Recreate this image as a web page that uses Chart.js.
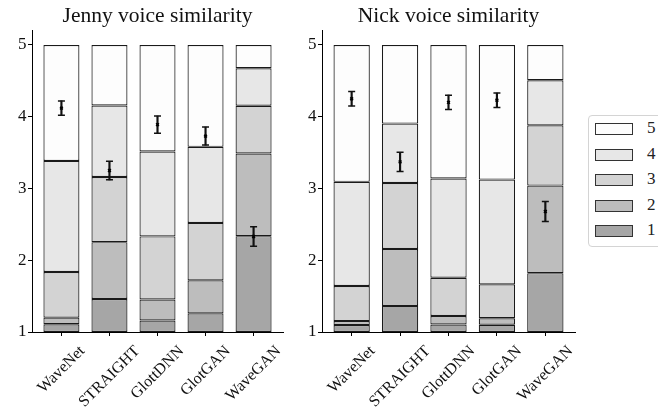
<!DOCTYPE html>
<html lang="en">
<head>
  <meta charset="UTF-8">
  <title>Voice similarity</title>
  <script src="https://cdn.jsdelivr.net/npm/chart.js"></script>
  <style>
    body {
      margin: 0;
      background: #fff;
      font-family: "Liberation Serif", "DejaVu Serif", serif;
      overflow: hidden;
    }
    .panel {
      position: absolute;
      top: 0;
    }
    #legend {
      position: absolute;
      left: 588px;
      top: 115px;
      width: 90px;
      height: 132px;
      border: 1px solid #d4d4d4;
      border-radius: 4px;
      box-sizing: border-box;
    }
    .row {
      position: absolute;
      left: 6px;
      height: 12px;
    }
    .swatch {
      position: absolute;
      left: 0;
      top: 0;
      width: 36px;
      height: 10px;
      border: 1px solid #333;
    }
    .lbl {
      position: absolute;
      left: 52px;
      top: -5px;
      font-size: 17px;
      color: #222;
    }
  </style>
</head>
<body>

  <div class="panel" style="left:0px"><canvas id="jenny" width="290" height="415"></canvas></div>
  <div class="panel" style="left:290px"><canvas id="nick" width="292" height="415"></canvas></div>
  <div id="legend"></div>

  <script>
    const systems = ['WaveNet', 'STRAIGHT', 'GlottDNN', 'GlotGAN', 'WaveGAN'];
    const scores = ['1', '2', '3', '4', '5'];
    const scoreColors = ['#a6a6a6', '#bdbdbd', '#d3d3d3', '#e7e7e7', '#fdfdfd'];
    const yTicks = [1, 2, 3, 4, 5];

    // share of ratings (%) per score, one array per score, ordered like systems
    const jenny1 = [2.7, 11.5, 4.0, 6.5, 33.4];
    const jenny2 = [2.3, 19.8, 7.3, 11.5, 28.8];
    const jenny3 = [15.9, 22.7, 22.0, 20.0, 16.6];
    const jenny4 = [38.7, 24.9, 29.6, 26.5, 13.1];
    const jenny5 = [40.4, 21.1, 37.1, 35.5, 8.1];
    const jennyMean = [4.12, 3.25, 3.89, 3.73, 2.33];
    const jennyErr = [0.10, 0.13, 0.12, 0.125, 0.135];

    const nick1 = [2.4, 9.1, 2.6, 2.5, 20.5];
    const nick2 = [1.4, 19.8, 3.0, 2.3, 30.5];
    const nick3 = [12.2, 23.0, 13.3, 11.8, 21.0];
    const nick4 = [36.3, 20.7, 34.6, 36.5, 15.7];
    const nick5 = [47.7, 27.4, 46.5, 46.9, 12.3];
    const nickMean = [4.25, 3.37, 4.20, 4.23, 2.68];
    const nickErr = [0.10, 0.135, 0.10, 0.10, 0.14];

    const serif = '"Liberation Serif", "DejaVu Serif", serif';
    Chart.defaults.font.family = serif;
    Chart.defaults.color = '#222';

    // x labels rotated 45 degrees but centred on the tick, like matplotlib
    const centredLabels = {
      id: 'centredLabels',
      afterDraw(chart) {
        const xs = chart.scales.x;
        const ctx = chart.ctx;
        const size = 16;
        ctx.save();
        ctx.font = size + 'px ' + serif;
        ctx.fillStyle = '#111';
        ctx.textAlign = 'center';
        ctx.textBaseline = 'middle';
        systems.forEach((name, i) => {
          const w = ctx.measureText(name).width;
          const boxH = (w + size) * Math.SQRT1_2;
          const x = xs.getPixelForValue(i);
          const y = xs.top + 11 + boxH / 2;
          ctx.save();
          ctx.translate(x, y);
          ctx.rotate(-Math.PI / 4);
          ctx.fillText(name, 0, 0);
          ctx.restore();
        });
        ctx.restore();
      }
    };

    function buildDatasets(shares, means, errs) {
      const sets = [];
      // error bars and means on top
      sets.push({
        type: 'line',
        data: means.map((m, i) => ({ x: i, y: m })),
        showLine: false,
        pointStyle: 'crossRot',
        pointRadius: 2,
        pointBorderWidth: 1.5,
        pointBorderColor: '#000'
      });
      sets.push({
        type: 'line',
        data: means.map((m, i) => ({ x: i, y: m + errs[i] })),
        showLine: false,
        pointStyle: 'line',
        pointRadius: 3.5,
        pointBorderWidth: 1.5,
        pointBorderColor: '#111'
      });
      sets.push({
        type: 'line',
        data: means.map((m, i) => ({ x: i, y: m - errs[i] })),
        showLine: false,
        pointStyle: 'line',
        pointRadius: 3.5,
        pointBorderWidth: 1.5,
        pointBorderColor: '#111'
      });
      sets.push({
        type: 'bar',
        data: means.map((m, i) => ({ x: i, y: [m - errs[i], m + errs[i]] })),
        backgroundColor: '#111',
        borderWidth: 0,
        barThickness: 1.5,
        grouped: false
      });
      // stacked distribution, drawn as floating bars from 1 to 5
      const base = systems.map(() => 1);
      const bars = [];
      shares.forEach((arr, s) => {
        bars.push({
          type: 'bar',
          label: scores[s],
          data: arr.map((p, i) => {
            const start = base[i];
            base[i] = start + p / 100 * 4;
            return { x: i, y: [start, s === shares.length - 1 ? 5 : base[i]] };
          }),
          backgroundColor: scoreColors[s],
          borderColor: '#1a1a1a',
          borderWidth: 1.2,
          borderSkipped: false,
          categoryPercentage: 1,
          barPercentage: 0.75,
          grouped: false
        });
      });
      return sets.concat(bars.reverse());
    }

    function makeChart(id, title, shares, means, errs, padRight) {
      return new Chart(document.getElementById(id).getContext('2d'), {
        type: 'bar',
        data: { datasets: buildDatasets(shares, means, errs) },
        plugins: [centredLabels],
        options: {
          responsive: false,
          animation: false,
          layout: { padding: { left: 0, right: padRight, top: 0, bottom: 0 } },
          plugins: {
            legend: { display: false },
            tooltip: { enabled: false },
            title: {
              display: true,
              text: title,
              fullSize: false,
              color: '#111',
              font: { size: 21.5, weight: 'normal' },
              padding: { top: 3.5, bottom: 1.3 }
            }
          },
          scales: {
            x: {
              type: 'linear',
              offset: false,
              min: -0.6125,
              max: 4.6125,
              afterFit: (s) => { s.height = 83; },
              afterBuildTicks: (s) => { s.ticks = systems.map((n, i) => ({ value: i })); },
              ticks: { display: false },
              grid: { display: true, offset: false, drawOnChartArea: false, drawTicks: true, tickLength: 4, color: '#000' },
              border: { display: true, color: '#000', width: 1 }
            },
            y: {
              min: 1,
              max: 5.2,
              afterFit: (s) => { s.width = 32; },
              afterBuildTicks: (s) => { s.ticks = yTicks.map(v => ({ value: v })); },
              ticks: { padding: 1.5, color: '#111', font: { size: 17 } },
              grid: { display: true, drawOnChartArea: false, drawTicks: true, tickLength: 4, color: '#000' },
              border: { display: true, color: '#000', width: 1 }
            }
          }
        }
      });
    }

    makeChart('jenny', 'Jenny voice similarity',
      [jenny1, jenny2, jenny3, jenny4, jenny5], jennyMean, jennyErr, 7);
    makeChart('nick', 'Nick voice similarity',
      [nick1, nick2, nick3, nick4, nick5], nickMean, nickErr, 7);

    // legend, highest score first
    const legend = document.getElementById('legend');
    for (let s = scores.length - 1; s >= 0; s--) {
      const row = document.createElement('div');
      row.className = 'row';
      row.style.top = (7 + (4 - s) * 25.5) + 'px';
      row.innerHTML = '<div class="swatch" style="background:' + scoreColors[s] + '"></div>' +
                      '<div class="lbl">' + scores[s] + '</div>';
      legend.appendChild(row);
    }
  </script>

</body>
</html>
